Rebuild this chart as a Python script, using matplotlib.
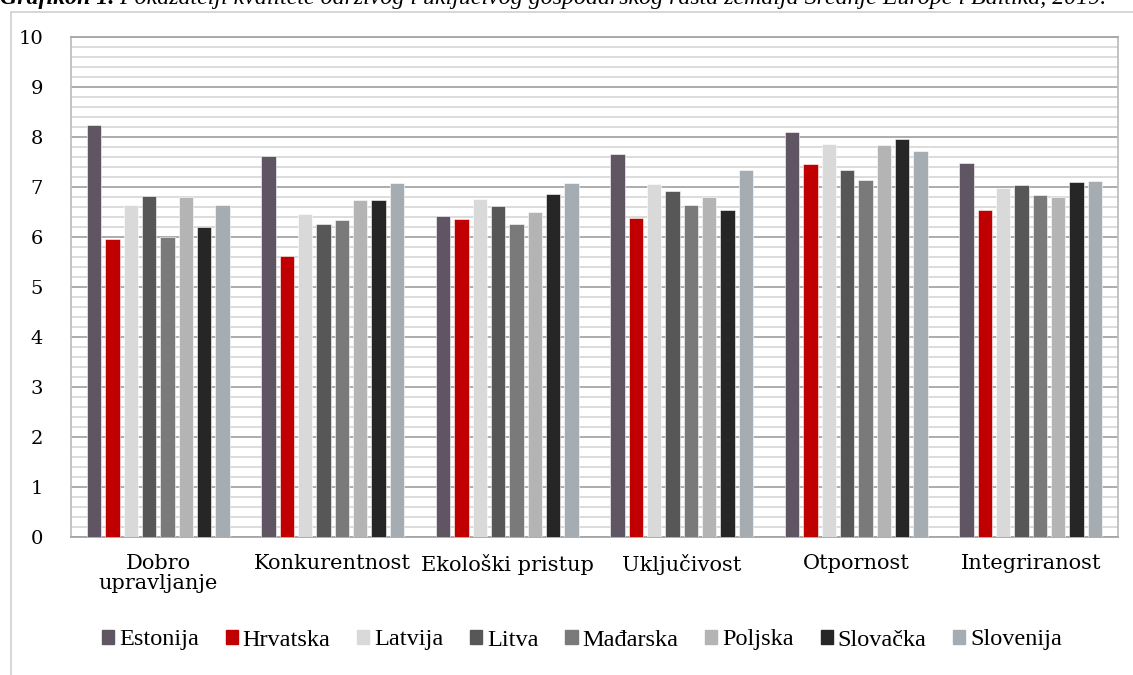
import matplotlib
matplotlib.use("Agg")
import matplotlib.pyplot as plt
import matplotlib.patches as mpatches
import numpy as np

# Data
categories = ["Dobro\nupravljanje", "Konkurentnost", "Ekološki pristup",
              "Uključivost", "Otpornost", "Integriranost"]
countries = ["Estonija", "Hrvatska", "Latvija", "Litva",
             "Mađarska", "Poljska", "Slovačka", "Slovenija"]

estonija = [8.25, 7.63, 6.42, 7.66, 8.10, 7.49]
hrvatska = [5.96, 5.63, 6.37, 6.39, 7.47, 6.54]
latvija = [6.64, 6.47, 6.76, 7.07, 7.87, 6.99]
litva = [6.83, 6.26, 6.63, 6.93, 7.34, 7.05]
madarska = [6.00, 6.35, 6.27, 6.65, 7.15, 6.84]
poljska = [6.81, 6.75, 6.51, 6.81, 7.85, 6.81]
slovacka = [6.20, 6.75, 6.87, 6.54, 7.96, 7.10]
slovenija = [6.64, 7.08, 7.08, 7.35, 7.72, 7.13]

series = [estonija, hrvatska, latvija, litva, madarska, poljska, slovacka, slovenija]
colors = ["#5F5563", "#C00000", "#D9D9D9", "#575757",
          "#7A7A7A", "#B4B4B4", "#262626", "#A6ADB2"]

yticks = list(range(0, 11))
ytick_labels = [str(v) for v in yticks]

title_bold = "Grafikon 1."
title_rest = " Pokazatelji kvalitete održivog i uključivog gospodarskog rasta zemalja Srednje Europe i Baltika, 2019."

W, H = 1133, 675
fig = plt.figure(figsize=(W / 100, H / 100), dpi=100, facecolor="white")

# outer chart frame (Excel style)
frame = mpatches.Rectangle((11 / W, -0.1), 1.2, 1 - 12 / H + 0.1,
                           transform=fig.transFigure, fill=False,
                           edgecolor="#D0D0D0", linewidth=1.2)
fig.patches.append(frame)

ax = fig.add_axes([71 / W, 1 - 537 / H, (1118 - 71) / W, (537 - 37) / H])

# caption at the very top, cut off as in the source page
t1 = fig.text(0.0, 1 - 4 / H, title_bold, fontsize=17.2, fontweight="bold",
              fontstyle="italic", family="Liberation Serif", va="baseline", ha="left")
ax.annotate(title_rest, xy=(1, 0), xycoords=t1, xytext=(0, 0),
            textcoords="offset points", fontsize=17.2, fontstyle="italic",
            family="Liberation Serif", va="bottom", ha="left",
            annotation_clip=False)

n = len(series)
x = np.arange(len(categories))
slot = 0.105
bar_w = 0.082
for i, (vals, c, name) in enumerate(zip(series, colors, countries)):
    offs = (i - (n - 1) / 2) * slot
    ax.bar(x + offs, vals, width=bar_w, color=c, label=name,
           edgecolor="white", linewidth=0.4, zorder=3)

ax.set_xlim(-0.5, len(categories) - 0.5)
ax.set_ylim(0, 10)
ax.set_yticks(yticks)
ax.set_yticklabels(ytick_labels, family="DejaVu Serif", fontsize=14)
ax.set_yticks(np.arange(0, 10.01, 0.2), minor=True)
ax.grid(axis="y", which="major", color="#A6A6A6", linewidth=1.3, zorder=1)
ax.grid(axis="y", which="minor", color="#D9D9D9", linewidth=1.3, zorder=0)
ax.tick_params(axis="y", which="both", length=0, pad=20)
ax.tick_params(axis="x", length=0, pad=12)
ax.set_xticks(x)
ax.set_xticklabels(categories, family="DejaVu Serif", fontsize=15, linespacing=1.1)

for side in ["left", "right", "top", "bottom"]:
    ax.spines[side].set_color("#A6A6A6")
    ax.spines[side].set_linewidth(1.3)
ax.spines["left"].set_color("#BFBFBF")
ax.spines["right"].set_color("#BFBFBF")

handles = [mpatches.Patch(color=c, label=nm) for c, nm in zip(colors, countries)]
fig.legend(handles=handles, loc="center", ncol=8,
           bbox_to_anchor=(582 / W, 1 - 640 / H), frameon=False,
           prop={"family": "Liberation Serif", "size": 17.5},
           handlelength=0.5, handleheight=0.5, handletextpad=0.2,
           columnspacing=1.1)

fig.savefig("out.png", dpi=100, facecolor="white")
